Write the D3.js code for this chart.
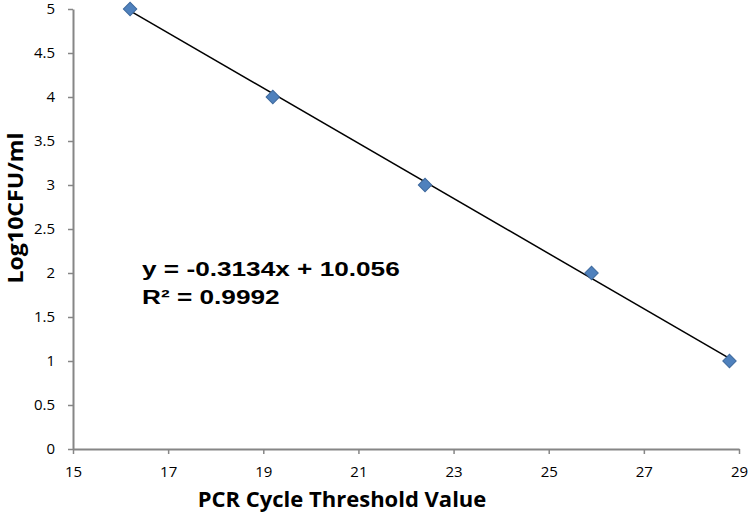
<!DOCTYPE html>
<html><head><meta charset="utf-8">
<script src="https://cdn.jsdelivr.net/npm/d3@7"></script>
<style>body{margin:0;background:#fff}svg{display:block}</style>
</head><body>
<script>
const ctValues = [16.2, 19.2, 22.4, 25.9, 28.8];
const logCfu = [5, 4, 3, 2, 1];
const xTicks = [15, 17, 19, 21, 23, 25, 27, 29];
const yTicks = [0, 0.5, 1, 1.5, 2, 2.5, 3, 3.5, 4, 4.5, 5];
const slope = -0.3134, intercept = 10.056;
const eqLines = ["y = -0.3134x + 10.056", "R² = 0.9992"];

const W = 750, H = 514;
const svg = d3.select("body").append("svg").attr("width", W).attr("height", H);
const x = d3.scaleLinear().domain([15, 29]).range([73, 739]);
const y = d3.scaleLinear().domain([0, 5]).range([449, 9]);

const gx = svg.append("g").attr("transform", "translate(0,449)")
  .call(d3.axisBottom(x).tickValues(xTicks).tickFormat(d => String(d)).tickSize(5).tickSizeOuter(0).tickPadding(12));
const gy = svg.append("g").attr("transform", "translate(73,0)")
  .call(d3.axisLeft(y).tickValues(yTicks).tickFormat(d => String(d)).tickSize(5).tickSizeOuter(0).tickPadding(13));
[gx, gy].forEach(g => {
  g.select(".domain").attr("stroke", "#868686").attr("stroke-width", 2);
  g.selectAll(".tick line").attr("stroke", "#868686").attr("stroke-width", 1.5);
  g.selectAll(".tick text").attr("fill", "#000").style("font-family", "'Open Sans', 'Liberation Sans', sans-serif").style("font-size", "15px");
});

const xs = d3.extent(ctValues);
svg.append("line")
  .attr("x1", x(xs[0])).attr("y1", y(slope * xs[0] + intercept))
  .attr("x2", x(xs[1])).attr("y2", y(slope * xs[1] + intercept))
  .attr("stroke", "#000").attr("stroke-width", 1.5);

const sym = d3.symbol().type(d3.symbolSquare).size(90);
svg.append("g").selectAll("path").data(ctValues).join("path")
  .attr("d", sym)
  .attr("transform", (d, i) => `translate(${x(d)},${y(logCfu[i])}) rotate(45)`)
  .attr("fill", "#4F81BD").attr("stroke", "#3F6A9E").attr("stroke-width", 1);

svg.append("g").selectAll("text").data(eqLines).join("text")
  .attr("transform", (d, i) => `translate(142,${276 + i * 28}) scale(1.31,1)`)
  .style("font-family", "'Liberation Sans', Arial, sans-serif").style("font-weight", "bold").style("font-size", "20px")
  .text(d => d);

svg.append("text").attr("x", 342).attr("y", 507).attr("text-anchor", "middle")
  .style("font-family", "'Open Sans', 'Liberation Sans', sans-serif").style("font-weight", "bold").style("font-size", "22px")
  .text("PCR Cycle Threshold Value");
svg.append("text").attr("transform", "translate(23,208) rotate(-90)").attr("text-anchor", "middle")
  .attr("textLength", 151).attr("lengthAdjust", "spacingAndGlyphs")
  .style("font-family", "'Open Sans', 'Liberation Sans', sans-serif").style("font-weight", "bold").style("font-size", "22px")
  .text("Log10CFU/ml");
</script>
</body></html>
